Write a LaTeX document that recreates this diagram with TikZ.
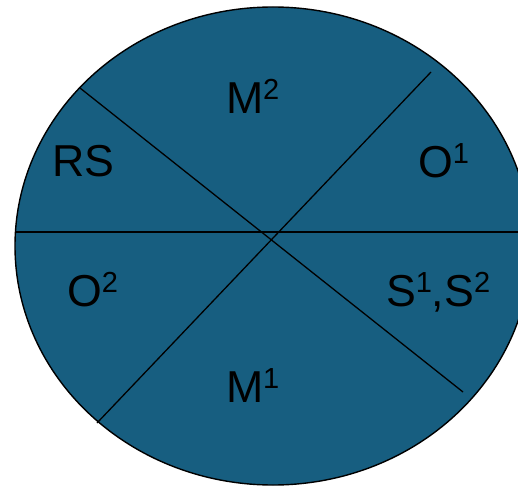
\documentclass[tikz,border=0pt]{standalone}
\usepackage{fontspec}
\setmainfont{Liberation Sans}
\definecolor{pie}{RGB}{23,94,128}
\newcommand\supr[1]{\raisebox{14pt}{\fontsize{29}{29}\selectfont #1}}
\begin{document}
\begin{tikzpicture}[x=1pt,y=-1pt,
  lbl/.style={anchor=base west,inner sep=0pt,outer sep=0pt,font=\fontsize{44.7}{48}\selectfont,text=black},
  cut/.style={draw=black,line width=1.3pt}]
\useasboundingbox (0,0) rectangle (518,486);
\clip (0,0) rectangle (518,486);
\fill[pie,draw=black,line width=1.4pt] (273,246) ellipse [x radius=258, y radius=239];
\coordinate (hl) at (15.4,232);
\coordinate (hr) at (540,232);
\coordinate (a1) at (80,88);
\coordinate (a2) at (463,392);
\coordinate (b1) at (431,72);
\coordinate (b2) at (97,423);
\draw[cut] (hl) -- (hr);
\draw[cut] (a1) -- (a2);
\draw[cut] (b1) -- (b2);
\node[lbl] (m2) at (226,114) {M\supr{2}};
\node[lbl] (rs) at (52,177) {RS};
\node[lbl] (o1) at (418,178) {O\supr{1}};
\node[lbl] (o2) at (67,306) {O\supr{2}};
\node[lbl] (s12) at (386,306) {S\supr{1},S\supr{2}};
\node[lbl] (m1) at (226,402) {M\supr{1}};
\end{tikzpicture}
\end{document}
